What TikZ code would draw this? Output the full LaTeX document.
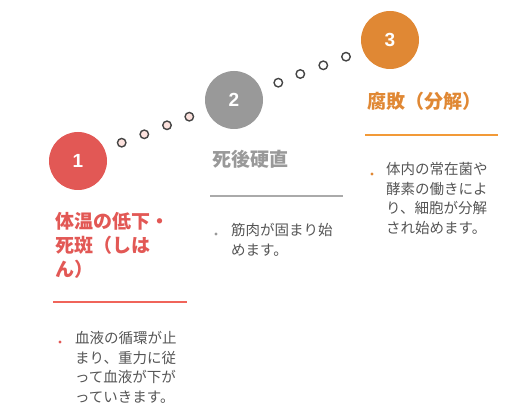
\documentclass[tikz,border=0pt]{standalone}
\usepackage{fontspec}
\setmainfont{Noto Sans CJK JP}
\newfontfamily\numfont{Liberation Sans}
\usepackage{tikz}
\usetikzlibrary{positioning}
\definecolor{stepred}{RGB}{226,88,85}
\definecolor{stepgrey}{RGB}{153,153,153}
\definecolor{steporange}{RGB}{224,136,52}
\definecolor{rulered}{RGB}{240,100,90}
\definecolor{rulegrey}{RGB}{170,170,170}
\definecolor{ruleorange}{RGB}{242,154,56}
\definecolor{bodytext}{RGB}{85,85,85}
\definecolor{dotedge}{RGB}{68,68,68}
\definecolor{dotpink}{RGB}{253,226,222}
\tikzset{
  badge/.style={circle, fill=#1, minimum size=58pt, inner sep=0pt, text=white, font=\numfont\fontsize{19}{19}\selectfont\bfseries},
  hop/.style={circle, draw=dotedge, fill=#1, line width=1.4pt, minimum size=8.5pt, inner sep=0pt},
  title/.style={anchor=base west, inner sep=0pt, align=left, text=#1, font=\fontsize{19}{24}\selectfont\bfseries},
  body/.style={anchor=base west, inner sep=0pt, align=left, text=bodytext, font=\fontsize{14.5}{19.7}\selectfont},
  bullet/.style={circle, fill=#1, minimum size=3.4pt, inner sep=0pt},
  rulel/.style={line width=1.3pt, draw=#1},
}
\begin{document}
\begin{tikzpicture}[x=1pt,y=-1pt]
  \useasboundingbox (0,0) rectangle (525,409);
  % steps
  \node[badge=stepred] (s1) at (78,161) {1};
  \node[badge=stepgrey] (s2) at (234,100) {2};
  \node[badge=steporange] (s3) at (390,40) {3};
  % dots between the steps
  \foreach \x/\y/\n in {121.7/142.7/a1,144.3/134.3/a2,167/125.3/a3,189.3/116.7/a4}{
    \node[hop=dotpink] (\n) at (\x,\y) {};
  }
  \foreach \x/\y/\n in {278.3/82.7/b1,300.3/74/b2,323.3/65.3/b3,346/56.7/b4}{
    \node[hop=white] (\n) at (\x,\y) {};
  }
  % titles (base = last line)
  \node[title=stepred] (t1) at (55,276) {体温の低下・\\死斑（しは\\ん）};
  \node[title=stepgrey] (t2) at (212,167) {死後硬直};
  \node[title=steporange] (t3) at (367,108.5) {腐敗（分解）};
  % rules
  \coordinate (r1a) at (53,302); \coordinate (r1b) at (187,302);
  \coordinate (r2a) at (210,196); \coordinate (r2b) at (343,196);
  \coordinate (r3a) at (365,135); \coordinate (r3b) at (498,135);
  \draw[rulel=rulered] (r1a) -- (r1b);
  \draw[rulel=rulegrey] (r2a) -- (r2b);
  \draw[rulel=ruleorange] (r3a) -- (r3b);
  % descriptions
  \node[bullet=stepred] (p1) at (60,342) {};
  \node[body] (d1) at (75,402.5) {血液の循環が止\\まり、重力に従\\って血液が下が\\っていきます。};
  \node[bullet=stepgrey] (p2) at (216,234) {};
  \node[body] (d2) at (231,255.5) {筋肉が固まり始\\めます。};
  \node[bullet=steporange] (p3) at (372,174) {};
  \node[body] (d3) at (386,233.5) {体内の常在菌や\\酵素の働きによ\\り、細胞が分解\\され始めます。};
\end{tikzpicture}
\end{document}
